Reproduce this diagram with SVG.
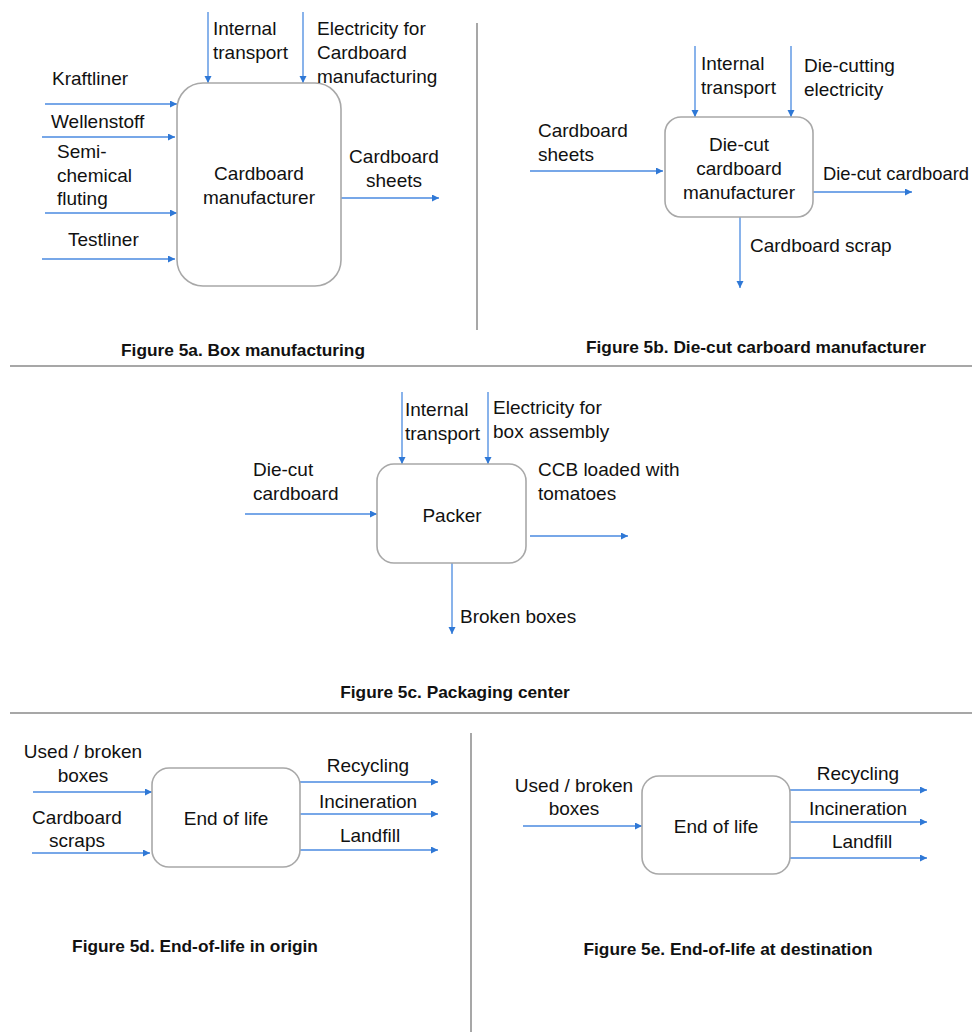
<svg xmlns="http://www.w3.org/2000/svg" width="972" height="1032" viewBox="0 0 972 1032">
<defs>
<marker id="ah" markerWidth="8" markerHeight="8" refX="7" refY="3.5" orient="auto" markerUnits="userSpaceOnUse">
<path d="M0,0 L7,3.5 L0,7 z" fill="#2f78d6"/>
</marker>
<style>
.t{font-family:"Liberation Sans",Arial,sans-serif;font-size:19px;fill:#111}
.m{text-anchor:middle}
.cap{font-family:"Liberation Sans",Arial,sans-serif;font-size:17.3px;font-weight:bold;fill:#111}
.box{fill:#fff;stroke:#a8a8a8;stroke-width:1.6}
.sep{stroke:#8a8a8a;stroke-width:1.5;fill:none}
.c{stroke:#4a8ae0;stroke-width:1.3;fill:none;marker-end:url(#ah)}
</style>
</defs>
<rect width="972" height="1032" fill="#fff"/>
<g id="separators">
<line class="sep" x1="477" y1="23" x2="477" y2="330"/>
<line class="sep" x1="10" y1="366" x2="972" y2="366"/>
<line class="sep" x1="10" y1="713" x2="972" y2="713"/>
<line class="sep" x1="471" y1="733" x2="471" y2="1032"/>
</g>
<g id="connectors">
<line class="c" x1="208" y1="12" x2="208" y2="83"/>
<line class="c" x1="303" y1="12" x2="303" y2="83"/>
<line class="c" x1="45" y1="104" x2="177" y2="104"/>
<line class="c" x1="42" y1="137" x2="175" y2="137"/>
<line class="c" x1="45" y1="213" x2="177" y2="213"/>
<line class="c" x1="42" y1="259" x2="175" y2="259"/>
<line class="c" x1="341" y1="198" x2="439" y2="198"/>
<line class="c" x1="695" y1="46" x2="695" y2="117"/>
<line class="c" x1="791" y1="46" x2="791" y2="117"/>
<line class="c" x1="530" y1="171" x2="663" y2="171"/>
<line class="c" x1="813" y1="192" x2="912" y2="192"/>
<line class="c" x1="740" y1="217" x2="740" y2="288"/>
<line class="c" x1="402" y1="392" x2="402" y2="464"/>
<line class="c" x1="488" y1="392" x2="488" y2="464"/>
<line class="c" x1="245" y1="514" x2="377" y2="514"/>
<line class="c" x1="530" y1="536" x2="628" y2="536"/>
<line class="c" x1="452" y1="563" x2="452" y2="634"/>
<line class="c" x1="33" y1="792" x2="152" y2="792"/>
<line class="c" x1="32" y1="853" x2="150" y2="853"/>
<line class="c" x1="300" y1="782" x2="438" y2="782"/>
<line class="c" x1="300" y1="814" x2="438" y2="814"/>
<line class="c" x1="300" y1="850" x2="438" y2="850"/>
<line class="c" x1="523" y1="826" x2="642" y2="826"/>
<line class="c" x1="790" y1="790" x2="927" y2="790"/>
<line class="c" x1="790" y1="822" x2="927" y2="822"/>
<line class="c" x1="790" y1="858" x2="927" y2="858"/>
</g>
<g id="fig5a">
<rect class="box" x="177" y="83" width="164" height="203" rx="26"/>
<text class="t m" x="259" y="180">Cardboard</text>
<text class="t m" x="259" y="204">manufacturer</text>
<text class="t" x="213" y="35">Internal</text>
<text class="t" x="213" y="59">transport</text>
<text class="t" x="317" y="35">Electricity for</text>
<text class="t" x="317" y="59">Cardboard</text>
<text class="t" x="317" y="83">manufacturing</text>
<text class="t" x="52" y="85">Kraftliner</text>
<text class="t" x="51" y="128">Wellenstoff</text>
<text class="t" x="57" y="158">Semi-</text>
<text class="t" x="57" y="182">chemical</text>
<text class="t" x="57" y="205">fluting</text>
<text class="t" x="68" y="246">Testliner</text>
<text class="t m" x="394" y="163">Cardboard</text>
<text class="t m" x="394" y="187">sheets</text>
<text class="cap m" x="243" y="356">Figure 5a. Box manufacturing</text>
</g>
<g id="fig5b">
<rect class="box" x="665" y="117" width="148" height="100" rx="16"/>
<text class="t m" x="739" y="151">Die-cut</text>
<text class="t m" x="739" y="175">cardboard</text>
<text class="t m" x="739" y="199">manufacturer</text>
<text class="t" x="701" y="70">Internal</text>
<text class="t" x="701" y="94">transport</text>
<text class="t" x="804" y="72">Die-cutting</text>
<text class="t" x="804" y="96">electricity</text>
<text class="t" x="538" y="137">Cardboard</text>
<text class="t" x="538" y="161">sheets</text>
<text class="t" x="823" y="180" textLength="146" lengthAdjust="spacingAndGlyphs">Die-cut cardboard</text>
<text class="t" x="750" y="252">Cardboard scrap</text>
<text class="cap m" x="756" y="353">Figure 5b. Die-cut carboard manufacturer</text>
</g>
<g id="fig5c">
<rect class="box" x="377" y="464" width="149" height="99" rx="17"/>
<text class="t m" x="452" y="522">Packer</text>
<text class="t" x="405" y="416">Internal</text>
<text class="t" x="405" y="440">transport</text>
<text class="t" x="493" y="414">Electricity for</text>
<text class="t" x="493" y="438">box assembly</text>
<text class="t" x="253" y="476">Die-cut</text>
<text class="t" x="253" y="500">cardboard</text>
<text class="t" x="538" y="476">CCB loaded with</text>
<text class="t" x="538" y="500">tomatoes</text>
<text class="t" x="460" y="623">Broken boxes</text>
<text class="cap m" x="455" y="698">Figure 5c. Packaging center</text>
</g>
<g id="fig5d">
<rect class="box" x="152" y="768" width="148" height="99" rx="17"/>
<text class="t m" x="226" y="825">End of life</text>
<text class="t m" x="83" y="758">Used / broken</text>
<text class="t m" x="83" y="782">boxes</text>
<text class="t m" x="77" y="824">Cardboard</text>
<text class="t m" x="77" y="847">scraps</text>
<text class="t m" x="368" y="772">Recycling</text>
<text class="t m" x="368" y="808">Incineration</text>
<text class="t m" x="370" y="842">Landfill</text>
<text class="cap m" x="195" y="952">Figure 5d. End-of-life in origin</text>
</g>
<g id="fig5e">
<rect class="box" x="642" y="776" width="148" height="98" rx="17"/>
<text class="t m" x="716" y="833">End of life</text>
<text class="t m" x="574" y="792">Used / broken</text>
<text class="t m" x="574" y="815">boxes</text>
<text class="t m" x="858" y="780">Recycling</text>
<text class="t m" x="858" y="815">Incineration</text>
<text class="t m" x="862" y="848">Landfill</text>
<text class="cap m" x="728" y="955">Figure 5e. End-of-life at destination</text>
</g>
</svg>
